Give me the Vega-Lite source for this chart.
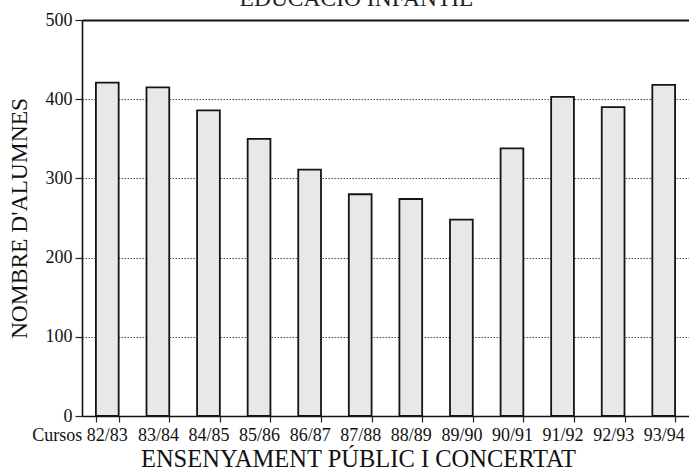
{
  "$schema": "https://vega.github.io/schema/vega-lite/v6.json",
  "width": 607,
  "height": 396,
  "autosize": "none",
  "padding": {"left": 82, "top": 20, "right": 0, "bottom": 55},
  "background": "white",
  "title": {
    "text": "EDUCACIÓ INFANTIL",
    "font": "Liberation Serif",
    "fontSize": 23.5,
    "fontWeight": "normal",
    "color": "#222222",
    "frame": "group",
    "offset": 0,
    "baseline": "bottom",
    "anchor": "middle",
    "dx": -29,
    "dy": 23
  },
  "data": {
    "values": [
      {"curs": "82/83", "alumnes": 421},
      {"curs": "83/84", "alumnes": 415},
      {"curs": "84/85", "alumnes": 386},
      {"curs": "85/86", "alumnes": 350},
      {"curs": "86/87", "alumnes": 311},
      {"curs": "87/88", "alumnes": 280},
      {"curs": "88/89", "alumnes": 274},
      {"curs": "89/90", "alumnes": 248},
      {"curs": "90/91", "alumnes": 338},
      {"curs": "91/92", "alumnes": 403},
      {"curs": "92/93", "alumnes": 390},
      {"curs": "93/94", "alumnes": 418}
    ]
  },
  "mark": {"type": "bar", "fill": "#e8e8e8", "stroke": "#141414", "strokeWidth": 1.8},
  "encoding": {
    "x": {
      "field": "curs",
      "type": "ordinal",
      "sort": null,
      "scale": {"paddingInner": 0.55, "paddingOuter": 0.275},
      "axis": {
        "title": "ENSENYAMENT PÚBLIC I CONCERTAT",
        "titleFont": "Liberation Serif",
        "titleFontSize": 24.5,
        "titleFontWeight": "normal",
        "titleColor": "#111111",
        "titlePadding": 3,
        "titleX": 276,
        "titleAnchor": "middle",
        "labelFont": "Liberation Serif",
        "labelFontSize": 18,
        "labelColor": "#111111",
        "labelAngle": 0,
        "labelPadding": 4,
        "labelOverlap": false,
        "labelBound": false,
        "labelExpr": "datum.value == '82/83' ? 'Cursos  82/83' : datum.label",
        "labelAlign": {"condition": {"test": "datum.value == '82/83'", "value": "right"}, "value": "center"},
        "labelOffset": {"condition": {"test": "datum.value == '82/83'", "value": 20}, "value": 0},
        "tickBand": "extent",
        "tickSize": 6,
        "tickColor": "#222222",
        "tickWidth": 1.2,
        "domainColor": "#111111",
        "domainWidth": 1.6
      }
    },
    "y": {
      "field": "alumnes",
      "type": "quantitative",
      "scale": {"domain": [0, 500], "nice": false},
      "axis": {
        "title": "NOMBRE D'ALUMNES",
        "titleFont": "Liberation Serif",
        "titleFontSize": 23.5,
        "titleFontWeight": "normal",
        "titleColor": "#111111",
        "titlePadding": 14,
        "values": [0, 100, 200, 300, 400, 500],
        "labelFont": "Liberation Serif",
        "labelFontSize": 18,
        "labelColor": "#111111",
        "labelPadding": 3,
        "tickSize": 7,
        "tickColor": "#222222",
        "tickWidth": 1.2,
        "domainColor": "#111111",
        "domainWidth": 1.6,
        "grid": true,
        "gridDash": {"condition": {"test": "datum.value == 500", "value": []}, "value": [1.5, 1.5]},
        "gridColor": {"condition": {"test": "datum.value == 500", "value": "#111111"}, "value": "#4a4a4a"},
        "gridWidth": {"condition": {"test": "datum.value == 500", "value": 2}, "value": 1},
        "gridOpacity": {"condition": {"test": "datum.value == 0", "value": 0}, "value": 1}
      }
    }
  },
  "config": {"view": {"stroke": null}}
}
